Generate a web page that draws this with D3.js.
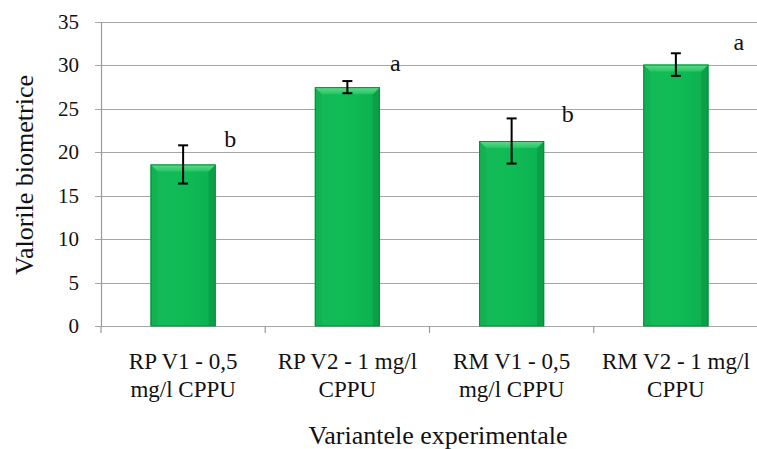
<!DOCTYPE html>
<html>
<head>
<meta charset="utf-8">
<script src="https://cdn.jsdelivr.net/npm/d3@7"></script>
<style>
  html, body { margin: 0; padding: 0; background: #fff; }
  svg { display: block; }
  svg text { font-family: "Liberation Serif", "DejaVu Serif", serif; }
</style>
</head>
<body>
<svg id="chart" width="757" height="449"></svg>
<script>
// Biometric values per experimental variant (mean ± error) and significance letters
const categories = [
  ["RP V1 - 0,5", "mg/l CPPU"],
  ["RP V2 - 1 mg/l", "CPPU"],
  ["RM V1 - 0,5", "mg/l CPPU"],
  ["RM V2 - 1 mg/l", "CPPU"]
];
const means = [18.6, 27.5, 21.3, 30.1];
const errors = [2.2, 0.7, 2.6, 1.3];
const letters = ["b", "a", "b", "a"];
const yTicks = [0, 5, 10, 15, 20, 25, 30, 35];

(function () {
  const FONT = "'Liberation Serif', 'DejaVu Serif', serif";
  const svg = d3.select("#chart");
  const plotLeft = 101, plotRight = 758, plotTop = 22, plotBottom = 326;

  const x = d3.scaleBand()
    .domain(d3.range(categories.length))
    .range([plotLeft, plotRight])
    .paddingInner(0.604)
    .paddingOuter(0.302);

  const y = d3.scaleLinear().domain([0, 35]).range([plotBottom, plotTop]);

  // Gradients for the bevelled bars
  const defs = svg.append("defs");
  const gTop = defs.append("linearGradient").attr("id", "bevelTop").attr("x1", 0).attr("y1", 0).attr("x2", 0).attr("y2", 1);
  gTop.append("stop").attr("offset", 0).attr("stop-color", "#5fdc8d");
  gTop.append("stop").attr("offset", 1).attr("stop-color", "#27c563");
  const gBody = defs.append("linearGradient").attr("id", "body").attr("x1", 0).attr("y1", 0).attr("x2", 1).attr("y2", 0);
  gBody.append("stop").attr("offset", 0).attr("stop-color", "#14b957");
  gBody.append("stop").attr("offset", 0.5).attr("stop-color", "#0fbb55");
  gBody.append("stop").attr("offset", 1).attr("stop-color", "#0cb04f");

  // Horizontal gridlines (extend a little left of the axis as tick marks)
  svg.append("g")
    .selectAll("line")
    .data(yTicks)
    .join("line")
    .attr("x1", plotLeft - 6)
    .attr("x2", plotRight)
    .attr("y1", d => Math.round(y(d)) + 0.5)
    .attr("y2", d => Math.round(y(d)) + 0.5)
    .attr("stroke", "#a6a6a6")
    .attr("stroke-width", 1.2);

  // Y tick labels
  svg.append("g")
    .selectAll("text")
    .data(yTicks)
    .join("text")
    .attr("x", 79)
    .attr("y", d => y(d) + 7)
    .attr("text-anchor", "end")
    .attr("font-family", FONT)
    .attr("font-size", 21)
    .attr("fill", "#111")
    .text(d => d);

  // Vertical axis line
  svg.append("line")
    .attr("x1", plotLeft + 0.5).attr("x2", plotLeft + 0.5)
    .attr("y1", y(35)).attr("y2", plotBottom)
    .attr("stroke", "#9a9a9a").attr("stroke-width", 1.2);

  // Category boundary ticks under the baseline
  const step = x.step();
  svg.append("g")
    .selectAll("line")
    .data(d3.range(categories.length + 1))
    .join("line")
    .attr("x1", i => plotLeft + i * step)
    .attr("x2", i => plotLeft + i * step)
    .attr("y1", plotBottom)
    .attr("y2", plotBottom + 7)
    .attr("stroke", "#9a9a9a")
    .attr("stroke-width", 1.2);

  // Bars with a bevelled top and shaded sides
  const bw = x.bandwidth();
  const bars = svg.append("g")
    .selectAll("g")
    .data(means)
    .join("g")
    .attr("transform", (d, i) => `translate(${x(i)},0)`);

  bars.append("rect")
    .attr("x", 0)
    .attr("y", d => y(d))
    .attr("width", bw)
    .attr("height", d => plotBottom - y(d))
    .attr("fill", "url(#body)");

  const bev = 7;
  bars.append("path")
    .attr("d", d => `M0,${y(d)} L${bev},${y(d) + bev} L${bev},${plotBottom} L0,${plotBottom} Z`)
    .attr("fill", "#12b254");
  bars.append("path")
    .attr("d", d => `M${bw},${y(d)} L${bw - bev},${y(d) + bev} L${bw - bev},${plotBottom} L${bw},${plotBottom} Z`)
    .attr("fill", "#0b9f47");
  bars.append("path")
    .attr("d", d => `M0,${y(d)} L${bw},${y(d)} L${bw - bev},${y(d) + bev} L${bev},${y(d) + bev} Z`)
    .attr("fill", "url(#bevelTop)");
  bars.append("rect")
    .attr("x", 0.5)
    .attr("y", d => y(d) + 0.5)
    .attr("width", bw - 1)
    .attr("height", d => plotBottom - y(d) - 0.5)
    .attr("fill", "none")
    .attr("stroke", "#0a8a3c")
    .attr("stroke-width", 1);

  // Error bars
  const cap = 5;
  const err = svg.append("g")
    .selectAll("g")
    .data(means)
    .join("g")
    .attr("transform", (d, i) => `translate(${x(i) + bw / 2},0)`)
    .attr("stroke", "#000")
    .attr("stroke-width", 2);
  err.append("line")
    .attr("x1", 0).attr("x2", 0)
    .attr("y1", (d, i) => y(d + errors[i]))
    .attr("y2", (d, i) => y(d - errors[i]));
  err.append("line")
    .attr("x1", -cap).attr("x2", cap)
    .attr("y1", (d, i) => y(d + errors[i]))
    .attr("y2", (d, i) => y(d + errors[i]));
  err.append("line")
    .attr("x1", -cap).attr("x2", cap)
    .attr("y1", (d, i) => y(d - errors[i]))
    .attr("y2", (d, i) => y(d - errors[i]));

  // Significance letters beside each bar
  const letterDx = [47, 48, 56, 63];
  const letterDy = [2, -10, 4, -3];
  svg.append("g")
    .selectAll("text")
    .data(letters)
    .join("text")
    .attr("x", (d, i) => x(i) + bw / 2 + letterDx[i])
    .attr("y", (d, i) => y(means[i] + errors[i]) + letterDy[i])
    .attr("text-anchor", "middle")
    .attr("font-family", FONT)
    .attr("font-size", 24)
    .attr("fill", "#111")
    .text(d => d);

  // Category labels (two lines each)
  const catLabels = svg.append("g")
    .selectAll("text")
    .data(categories)
    .join("text")
    .attr("text-anchor", "middle")
    .attr("font-family", FONT)
    .attr("font-size", 23)
    .attr("fill", "#111");
  catLabels.each(function (lines, i) {
    const t = d3.select(this);
    lines.forEach((ln, k) => {
      t.append("tspan")
        .attr("x", x(i) + bw / 2)
        .attr("y", 369 + k * 28)
        .text(ln);
    });
  });

  // Axis titles
  svg.append("text")
    .attr("x", 438)
    .attr("y", 444)
    .attr("text-anchor", "middle")
    .attr("font-family", FONT)
    .attr("font-size", 26)
    .attr("fill", "#111")
    .text("Variantele experimentale");

  svg.append("text")
    .attr("transform", "translate(33,175) rotate(-90)")
    .attr("text-anchor", "middle")
    .attr("font-family", FONT)
    .attr("font-size", 26)
    .attr("fill", "#111")
    .text("Valorile biometrice");
})();
</script>
</body>
</html>
